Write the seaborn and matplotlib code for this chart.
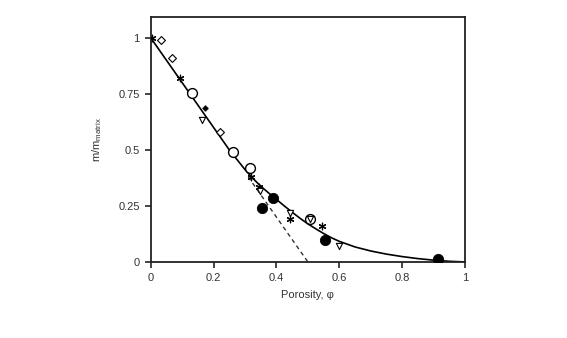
import numpy as np
import pandas as pd
import seaborn as sns
import matplotlib.pyplot as plt

# %% data
curve_phi = [0.0, 0.1, 0.2, 0.25, 0.3, 0.325, 0.35, 0.375, 0.4, 0.425, 0.45, 0.475, 0.5,
             0.525, 0.55, 0.575, 0.6, 0.65, 0.7, 0.75, 0.8, 0.85, 0.9, 0.95, 1.0]
curve_m = [1.0, 0.8, 0.6, 0.5, 0.412, 0.373, 0.338, 0.308, 0.279, 0.25, 0.222, 0.195, 0.17,
           0.148, 0.127, 0.108, 0.092, 0.067, 0.049, 0.035, 0.024, 0.015, 0.008, 0.003, 0.0]

dash_phi = [0.31, 0.5]
dash_m = [0.38, 0.0]

diam_phi = [0.031, 0.066, 0.22]
diam_m = [0.99, 0.91, 0.58]

star_phi = [0.005, 0.093, 0.32, 0.343, 0.444, 0.545]
star_m = [1.0, 0.82, 0.38, 0.336, 0.19, 0.16]

ocirc_phi = [0.13, 0.263, 0.316, 0.508]
ocirc_m = [0.753, 0.492, 0.418, 0.19]

fcirc_phi = [0.354, 0.39, 0.553, 0.913]
fcirc_m = [0.24, 0.287, 0.098, 0.012]

tri_phi = [0.162, 0.348, 0.442, 0.598, 0.508]
tri_m = [0.634, 0.318, 0.22, 0.071, 0.19]

fdiam_phi = [0.172]
fdiam_m = [0.686]

xticks = [0, 0.2, 0.4, 0.6, 0.8, 1.0]
xticklabels = ["0", "0.2", "0.4", "0.6", "0.8", "1"]
yticks = [0, 0.25, 0.5, 0.75, 1.0]
yticklabels = ["0", "0.25", "0.5", "0.75", "1"]

# %% style
sns.set_style("ticks")
plt.rcParams["font.family"] = ["Liberation Sans", "DejaVu Sans"]
plt.rcParams["mathtext.fontset"] = "custom"
plt.rcParams["mathtext.rm"] = "Liberation Sans"

fig = plt.figure(figsize=(5.67, 3.38), dpi=100)
ax = fig.add_axes([0.266, 0.225, 0.554, 0.725])

sns.lineplot(x=curve_phi, y=curve_m, ax=ax, color="black", lw=1.2)
ax.plot(dash_phi, dash_m, color="#333333", lw=1.0, ls=(0, (3, 2.5)))

kw = dict(ax=ax, legend=False, zorder=3)
sns.scatterplot(x=diam_phi, y=diam_m, marker="D", s=16, facecolor="white", edgecolor="black", linewidth=0.8, **kw)
sns.scatterplot(x=star_phi, y=star_m, marker=(6, 2, 0), s=22, color="black", linewidth=0.9, **kw)
sns.scatterplot(x=ocirc_phi, y=ocirc_m, marker="o", s=50, facecolor="white", edgecolor="black", linewidth=1.0, **kw)
sns.scatterplot(x=fcirc_phi, y=fcirc_m, marker="o", s=55, color="black", edgecolor="black", **kw)
sns.scatterplot(x=tri_phi, y=tri_m, marker="v", s=20, facecolor="white", edgecolor="black", linewidth=0.8, **kw)
sns.scatterplot(x=fdiam_phi, y=fdiam_m, marker="D", s=14, color="black", **kw)

ax.set_xlim(0, 1)
ax.set_ylim(0, 1.094)
ax.set_xticks(xticks)
ax.set_xticklabels(xticklabels)
ax.set_yticks(yticks)
ax.set_yticklabels(yticklabels)
ax.tick_params(direction="out", length=4, width=1.2, labelsize=8, labelcolor="#333333", pad=4)
for sp in ax.spines.values():
    sp.set_linewidth(1.3)
    sp.set_color("#222222")

ax.set_xlabel("Porosity, φ", fontsize=8, color="#333333", labelpad=5)
ax.set_ylabel(r"m/m$_{\mathrm{matrix}}$", fontsize=8, color="#333333", labelpad=10)

fig.savefig("out.png", dpi=100)
